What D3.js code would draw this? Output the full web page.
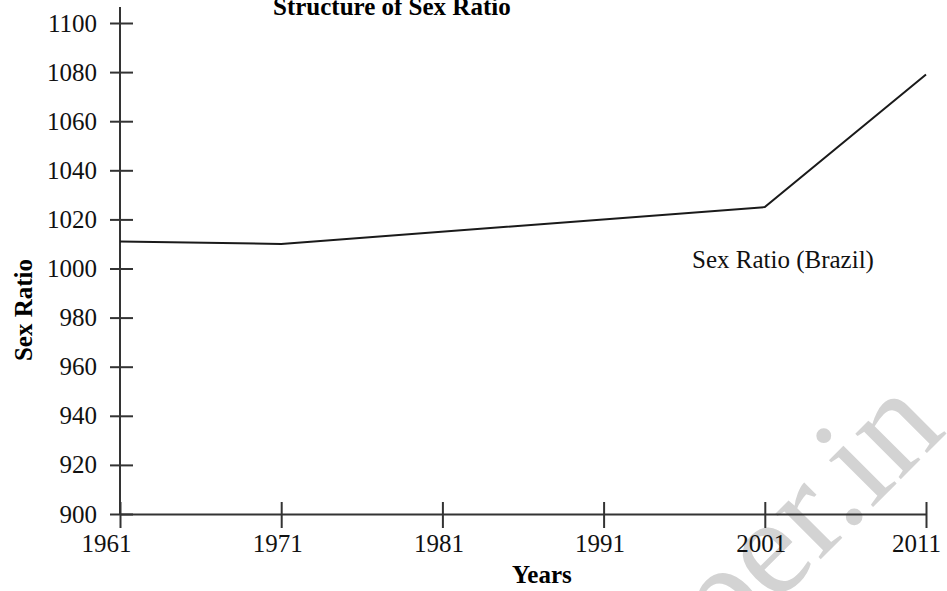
<!DOCTYPE html>
<html>
<head>
<meta charset="utf-8">
<script src="https://cdn.jsdelivr.net/npm/d3@7"></script>
<style>
  body { margin: 0; background: #fff; }
  text { font-family: "Liberation Serif", "Times New Roman", serif; }
</style>
</head>
<body>
<script>
// chart data
var years = [1961, 1971, 2001, 2011];
var sexRatio = [1011, 1010, 1025, 1079];
var xTicks = [1961, 1971, 1981, 1991, 2001, 2011];
var yTicks = [900, 920, 940, 960, 980, 1000, 1020, 1040, 1060, 1080, 1100];

var width = 947, height = 591;

let svg = d3.select("body").append("svg")
    .attr("width", width)
    .attr("height", height);

// watermark behind everything
svg.append("text")
    .attr("transform", "translate(948,432) rotate(-45)")
    .attr("text-anchor", "end")
    .attr("font-size", "140px")
    .attr("fill", "#d3d3d3")
    .text("paper.in");

let xScale = d3.scaleLinear()
    .domain([1961, 2011])
    .range([120, 926]);

let yScale = d3.scaleLinear()
    .domain([900, 1100])
    .range([514, 23]);

// y axis, ticks cross the axis line
let yAxis = d3.axisLeft(yScale)
    .tickValues(yTicks)
    .tickSizeOuter(0)
    .tickFormat(d3.format("d"));
svg.append("g")
    .attr("transform", "translate(120,0)")
    .call(yAxis)
    .call(g => g.select(".domain").remove())
    .call(g => g.selectAll(".tick line")
        .attr("x1", -10).attr("x2", 13)
        .attr("stroke", "#333").attr("stroke-width", 2))
    .call(g => g.selectAll(".tick text")
        .attr("x", -23)
        .attr("font-size", "25px")
        .attr("font-family", "Liberation Serif")
        .attr("fill", "#111"));

svg.append("line")
    .attr("x1", 120).attr("x2", 120)
    .attr("y1", yScale(1100) - 16).attr("y2", yScale(900))
    .attr("stroke", "#333").attr("stroke-width", 2);

// x axis
let xAxis = d3.axisBottom(xScale)
    .tickValues(xTicks)
    .tickSizeOuter(0)
    .tickFormat(d3.format("d"));
svg.append("g")
    .attr("transform", "translate(0," + yScale(900) + ")")
    .call(xAxis)
    .call(g => g.select(".domain").attr("stroke", "#333").attr("stroke-width", 2))
    .call(g => g.selectAll(".tick line")
        .attr("y1", -12).attr("y2", 14)
        .attr("stroke", "#333").attr("stroke-width", 2))
    .call(g => g.selectAll(".tick text")
        .attr("y", 38).attr("dy", 0)
        .attr("dx", d => d == 1961 ? -14 : d == 2011 ? -10 : -4)
        .attr("font-size", "25px")
        .attr("font-family", "Liberation Serif")
        .attr("fill", "#111"));

// the series line
let line = d3.line()
    .x((d, i) => xScale(years[i]))
    .y(d => yScale(d));

svg.append("path")
    .datum(sexRatio)
    .attr("d", line)
    .attr("fill", "none")
    .attr("stroke", "#1a1a1a")
    .attr("stroke-width", 2);

// labels
svg.append("text")
    .attr("x", 692).attr("y", 268)
    .attr("font-size", "25px")
    .attr("fill", "#111")
    .text("Sex Ratio (Brazil)");

svg.append("text")
    .attr("x", 273).attr("y", 15)
    .attr("font-size", "25px")
    .attr("font-weight", "bold")
    .text("Structure of Sex Ratio");

svg.append("text")
    .attr("x", 512).attr("y", 583)
    .attr("font-size", "25px")
    .attr("font-weight", "bold")
    .text("Years");

svg.append("text")
    .attr("transform", "translate(32,310) rotate(-90)")
    .attr("text-anchor", "middle")
    .attr("font-size", "25px")
    .attr("font-weight", "bold")
    .text("Sex Ratio");
</script>
</body>
</html>
